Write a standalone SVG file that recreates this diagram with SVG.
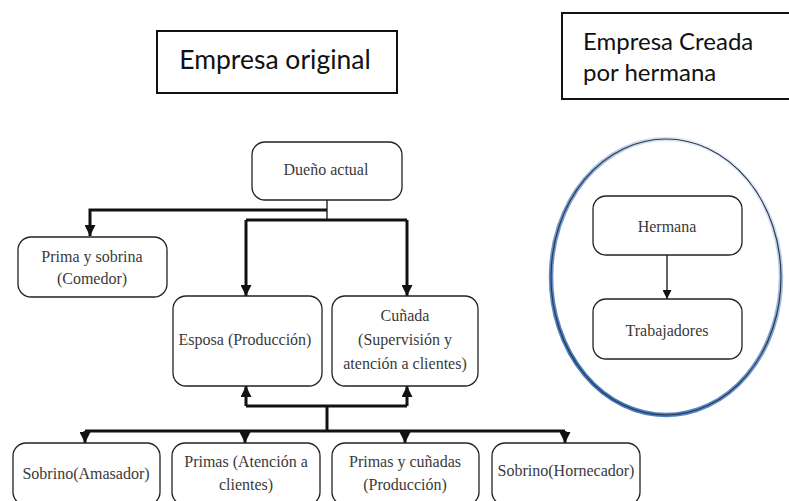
<svg xmlns="http://www.w3.org/2000/svg" width="789" height="501" viewBox="0 0 789 501">
<style>
.title{font-family:Lato,"Liberation Sans",sans-serif;fill:#111;}
.tbox{fill:#fff;stroke:#111;stroke-width:2;}
.node{fill:#fff;stroke:#222;stroke-width:1.3;}
.lbl{font-family:"Liberation Serif","Times New Roman",serif;font-size:16px;fill:#3a3a3a;text-anchor:middle;}
.thick{fill:none;stroke:#111;stroke-width:3;}
.thin{fill:none;stroke:#111;stroke-width:1.3;}
</style>
<defs>
<marker id="ah" viewBox="0 0 10 10" refX="10" refY="5" markerWidth="11" markerHeight="11" markerUnits="userSpaceOnUse" orient="auto"><path d="M0,0 L10,5 L0,10 z" fill="#111"/></marker>
<marker id="ahs" viewBox="0 0 10 10" refX="10" refY="5" markerWidth="9" markerHeight="9" markerUnits="userSpaceOnUse" orient="auto"><path d="M0,0 L10,5 L0,10 z" fill="#111"/></marker>
<linearGradient id="blueEdge" x1="0.8" y1="0" x2="0.2" y2="1">
<stop offset="0" stop-color="#4a7cc0" stop-opacity="0"/>
<stop offset="0.45" stop-color="#4a7cc0" stop-opacity="0.7"/>
<stop offset="1" stop-color="#3d72bd" stop-opacity="1"/>
</linearGradient>
</defs>
<rect width="789" height="501" fill="#fff"/>
<g id="title-original">
<rect class="tbox" x="157" y="31" width="240" height="62"/>
<text class="title" x="275" y="69" font-size="26.5" text-anchor="middle">Empresa original</text>
</g>
<g id="title-creada">
<rect class="tbox" x="562" y="13" width="232" height="86"/>
<text class="title" x="583" y="50" font-size="24">Empresa Creada</text>
<text class="title" x="583" y="81" font-size="24">por hermana</text>
</g>
<g id="ellipse">
<ellipse cx="666" cy="277" rx="115" ry="138" fill="#fff" stroke="url(#blueEdge)" stroke-width="4.5"/>
<ellipse cx="666" cy="277" rx="115" ry="138" fill="none" stroke="#2a3a50" stroke-width="1.2"/>
</g>
<g id="connectors">
<path class="thick" d="M327,210 H90 V236" marker-end="url(#ah)"/>
<path class="thin" d="M327,200 V220"/>
<path class="thick" d="M246,220 H407" stroke-width="2.5"/>
<path class="thick" d="M246,220 V296" marker-end="url(#ah)"/>
<path class="thick" d="M407,220 V296" marker-end="url(#ah)"/>
<path class="thick" d="M246,406 H407"/>
<path class="thick" d="M246,406 V386" marker-end="url(#ah)"/>
<path class="thick" d="M407,406 V386" marker-end="url(#ah)"/>
<path class="thick" d="M327,406 V431"/>
<path class="thick" d="M85,431 H565"/>
<path class="thick" d="M85,431 V443" marker-end="url(#ah)"/>
<path class="thick" d="M245,431 V443" marker-end="url(#ah)"/>
<path class="thick" d="M405,431 V443" marker-end="url(#ah)"/>
<path class="thick" d="M565,431 V443" marker-end="url(#ah)"/>
<path class="thin" d="M667,255 V299" marker-end="url(#ahs)"/>
</g>
<g id="dueno">
<rect class="node" x="252" y="142" width="150" height="58" rx="13"/>
<text class="lbl" x="326" y="175">Dueño actual</text>
</g>
<g id="prima-sobrina">
<rect class="node" x="18" y="237" width="149" height="60" rx="13"/>
<text class="lbl" x="92" y="262">Prima y sobrina</text>
<text class="lbl" x="92" y="284">(Comedor)</text>
</g>
<g id="esposa">
<rect class="node" x="173" y="296" width="149" height="90" rx="13"/>
<text class="lbl" x="245" y="345">Esposa (Producción)</text>
</g>
<g id="cunada">
<rect class="node" x="332" y="296" width="146" height="90" rx="13"/>
<text class="lbl" x="405" y="321">Cuñada</text>
<text class="lbl" x="405" y="345">(Supervisión y</text>
<text class="lbl" x="405" y="369">atención a clientes)</text>
</g>
<g id="sobrino-amasador">
<rect class="node" x="13" y="443" width="147" height="62" rx="13"/>
<text class="lbl" x="86" y="479">Sobrino(Amasador)</text>
</g>
<g id="primas-atencion">
<rect class="node" x="172" y="443" width="148" height="62" rx="13"/>
<text class="lbl" x="246" y="467">Primas (Atención a</text>
<text class="lbl" x="246" y="490">clientes)</text>
</g>
<g id="primas-cunadas">
<rect class="node" x="332" y="443" width="147" height="62" rx="13"/>
<text class="lbl" x="405" y="467">Primas y cuñadas</text>
<text class="lbl" x="405" y="490">(Producción)</text>
</g>
<g id="sobrino-hornecador">
<rect class="node" x="492" y="443" width="148" height="62" rx="13"/>
<text class="lbl" x="566" y="476">Sobrino(Hornecador)</text>
</g>
<g id="hermana">
<rect class="node" x="593" y="196" width="149" height="59" rx="13"/>
<text class="lbl" x="667" y="232">Hermana</text>
</g>
<g id="trabajadores">
<rect class="node" x="593" y="299" width="149" height="60" rx="13"/>
<text class="lbl" x="667" y="336">Trabajadores</text>
</g>
</svg>
